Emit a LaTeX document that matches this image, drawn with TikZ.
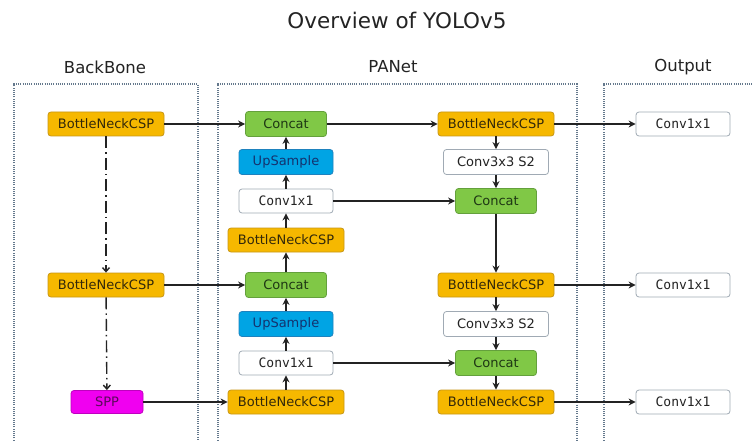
\documentclass[tikz,border=0pt]{standalone}
\usepackage{fontspec}
\setmainfont{DejaVu Sans}
\newfontfamily\monofont{DejaVu Sans Mono}
\usetikzlibrary{arrows.meta}
\definecolor{bnc}{RGB}{246,184,0}
\definecolor{bncd}{RGB}{200,150,20}
\definecolor{cat}{RGB}{128,200,70}
\definecolor{catd}{RGB}{100,160,60}
\definecolor{ups}{RGB}{0,164,228}
\definecolor{upsd}{RGB}{30,130,190}
\definecolor{sppc}{RGB}{240,0,240}
\definecolor{sppd}{RGB}{190,0,190}
\definecolor{spptxt}{RGB}{90,10,90}
\definecolor{grayb}{RGB}{160,170,180}
\definecolor{dotc}{RGB}{100,120,140}
\definecolor{txt}{RGB}{35,35,35}
\definecolor{uptxt}{RGB}{20,50,110}
\definecolor{cattxt}{RGB}{30,55,20}
\definecolor{bntxt}{RGB}{50,40,10}
\definecolor{arr}{RGB}{35,35,35}
\begin{document}
\begin{tikzpicture}[x=1pt,y=-1pt,
  box/.style={draw, rounded corners=3pt, line width=0.8pt, inner sep=0pt, minimum height=24pt, font=\fontsize{13}{15}\selectfont, text=txt},
  bn/.style={box, fill=bnc, draw=bncd, minimum width=116pt, text=bntxt},
  cc/.style={box, fill=cat, draw=catd, minimum width=81pt, minimum height=25pt, text=cattxt},
  up/.style={box, fill=ups, draw=upsd, minimum width=94pt, minimum height=25pt, text=uptxt},
  cv/.style={box, fill=white, draw=grayb, minimum width=94pt, font=\monofont\fontsize{13}{15}\selectfont},
  cth/.style={box, fill=white, draw=grayb, minimum width=105pt, minimum height=25pt},
  sp/.style={box, fill=sppc, draw=sppd, minimum width=72pt, minimum height=23pt, text=spptxt},
  ar/.style={-{Stealth[length=7pt,width=7pt]}, line width=1.4pt, draw=arr},
  dd/.style={-{Straight Barb[length=4pt,width=7pt]}, line width=1.4pt, draw=arr, dash pattern=on 12pt off 4pt on 1.5pt off 4pt},
  frame/.style={dotc, line width=1.1pt, dash pattern=on 1pt off 1.2pt},
  head/.style={font=\fontsize{16.5}{18}\selectfont, text=txt},
]
\useasboundingbox (0,0) rectangle (752,441);
\fill[white] (0,0) rectangle (752,441);
\begin{scope}
\clip (0,0) rectangle (752,441);
\draw[frame] (14,445) -- (14,84) -- (198,84) -- (198,445);
\draw[frame] (218,445) -- (218,84) -- (577,84) -- (577,445);
\draw[frame] (604,445) -- (604,84) -- (760,84);
\end{scope}

\node[font=\fontsize{21.5}{24}\selectfont, text=txt] (title) at (397,20) {Overview of YOLOv5};
\node[head] (hbb) at (105,67) {BackBone};
\node[head] (hpa) at (393,67) {PANet};
\node[head] (hout) at (683,67) {Output};

% backbone
\node[bn] (b1) at (106,124) {BottleNeckCSP};
\node[bn] (b2) at (106,285) {BottleNeckCSP};
\node[sp] (spp) at (107,402) {SPP};

% PANet left column
\node[cc] (c1) at (286,124) {Concat};
\node[up] (u1) at (286,162) {UpSample};
\node[cv] (v1) at (286,201) {Conv1x1};
\node[bn] (p1) at (286,240) {BottleNeckCSP};
\node[cc] (c2) at (286,285) {Concat};
\node[up] (u2) at (286,324) {UpSample};
\node[cv] (v2) at (286,363) {Conv1x1};
\node[bn] (p2) at (286,402) {BottleNeckCSP};

% PANet right column
\node[bn] (r1) at (496,124) {BottleNeckCSP};
\node[cth] (t1) at (496,162) {Conv3x3 S2};
\node[cc] (d1) at (496,201) {Concat};
\node[bn] (r2) at (496,285) {BottleNeckCSP};
\node[cth] (t2) at (496,324) {Conv3x3 S2};
\node[cc] (d2) at (496,363) {Concat};
\node[bn] (r3) at (496,402) {BottleNeckCSP};

% output
\node[cv] (o1) at (683,124) {Conv1x1};
\node[cv] (o2) at (683,285) {Conv1x1};
\node[cv] (o3) at (683,402) {Conv1x1};

% connectors
\draw[dd] (b1) -- (b2);
\draw[dd] (b2) -- (spp);
\draw[ar] (b1) -- (c1);
\draw[ar] (b2) -- (c2);
\draw[ar] (spp) -- (p2);
\draw[ar] (p2) -- (v2);
\draw[ar] (v2) -- (u2);
\draw[ar] (u2) -- (c2);
\draw[ar] (c2) -- (p1);
\draw[ar] (p1) -- (v1);
\draw[ar] (v1) -- (u1);
\draw[ar] (u1) -- (c1);
\draw[ar] (c1) -- (r1);
\draw[ar] (r1) -- (t1);
\draw[ar] (t1) -- (d1);
\draw[ar] (v1) -- (d1);
\draw[ar] (d1) -- (r2);
\draw[ar] (r2) -- (t2);
\draw[ar] (t2) -- (d2);
\draw[ar] (v2) -- (d2);
\draw[ar] (d2) -- (r3);
\draw[ar] (r1) -- (o1);
\draw[ar] (r2) -- (o2);
\draw[ar] (r3) -- (o3);
\end{tikzpicture}
\end{document}
